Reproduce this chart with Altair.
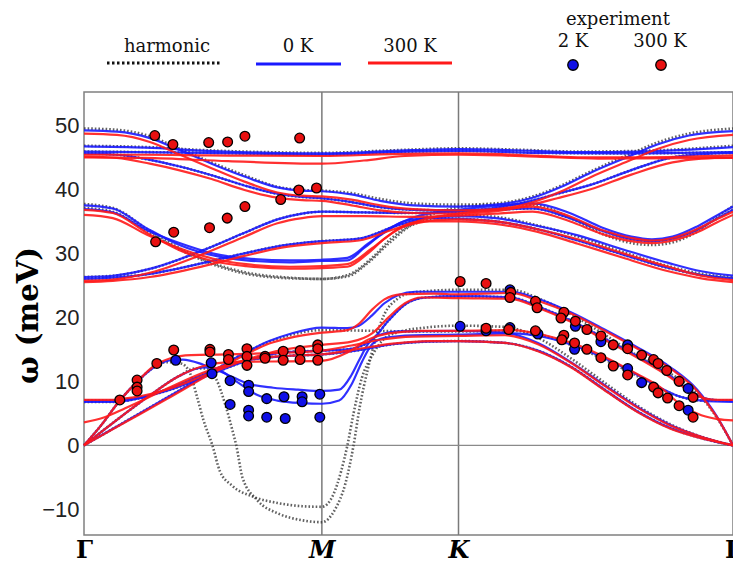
import altair as alt
import pandas as pd

# ---------------- high-symmetry path ----------------
path_k = [0.0, 0.578, 0.910, 1.577]
path_labels = ["Γ", "M", "K", "Γ"]
y_ticks = [-10, 0, 10, 20, 30, 40, 50]

# ---------------- 0 K (blue) bands: (k, meV) ----------------
blue_b1 = [(0,49.2),(0.08,49.0),(0.16,48.0),(0.23,46.2),(0.31,44.0),(0.39,42.0),(0.47,40.3),(0.53,39.8),(0.578,39.7),(0.65,39.2),(0.72,38.2),(0.80,37.5),(0.91,37.3),(1.0,37.6),(1.086,38.6),(1.16,40.4),(1.231,42.6),(1.33,45.3),(1.393,47.0),(1.47,48.4),(1.577,49.1)]
blue_b2 = [(0,46.7),(0.15,46.5),(0.30,46.0),(0.45,45.7),(0.578,45.6),(0.75,46.0),(0.91,46.3),(1.05,46.1),(1.20,45.8),(1.35,45.9),(1.577,46.6)]
blue_b2b = [(0,45.9),(0.30,45.7),(0.578,45.4),(0.75,45.8),(0.91,46.0),(1.10,45.7),(1.30,45.6),(1.577,45.8)]
blue_b3 = [(0,45.6),(0.08,45.4),(0.16,44.6),(0.23,43.6),(0.31,42.2),(0.39,40.6),(0.47,39.3),(0.53,38.8),(0.578,38.6),(0.65,38.0),(0.72,37.2),(0.80,36.8),(0.91,36.7),(0.99,37.0),(1.06,37.8),(1.15,39.3),(1.231,40.7),(1.33,43.0),(1.43,45.0),(1.50,45.5),(1.577,45.7)]
blue_m1 = [(0,37.5),(0.07,37.0),(0.153,33.9),(0.232,31.3),(0.312,29.7),(0.394,28.9),(0.50,28.6),(0.578,28.8),(0.64,28.9),(0.68,30.8),(0.72,32.8),(0.79,35.2),(0.91,35.8),(1.0,35.5),(1.10,34.3),(1.20,32.8),(1.31,30.6),(1.42,28.5),(1.50,27.2),(1.577,26.5)]
blue_m2 = [(0,36.9),(0.07,36.4),(0.153,33.6),(0.232,31.6),(0.312,30.0),(0.394,29.2),(0.50,28.9),(0.578,29.0),(0.64,29.3),(0.69,31.5),(0.74,33.8),(0.80,35.6),(0.91,36.8),(1.0,37.4),(1.09,37.8),(1.18,36.3),(1.26,34.0),(1.33,32.6),(1.38,32.2),(1.43,32.6),(1.49,34.2),(1.54,36.0),(1.577,37.3)]
blue_m3 = [(0,26.3),(0.07,26.5),(0.162,27.6),(0.29,30.5),(0.39,33.2),(0.47,35.3),(0.53,36.2),(0.578,36.5),(0.68,36.4),(0.80,36.3),(0.91,36.5),(1.0,36.8),(1.09,37.0),(1.18,35.5),(1.26,33.5),(1.33,32.2),(1.38,31.9),(1.43,32.3),(1.49,33.7),(1.54,35.5),(1.577,36.8)]
blue_m4 = [(0,26.0),(0.07,26.2),(0.16,26.8),(0.29,28.5),(0.39,30.0),(0.48,31.2),(0.578,31.9),(0.668,32.3),(0.764,34.4),(0.84,35.5),(0.91,35.4),(1.0,35.0),(1.10,33.8),(1.20,32.0),(1.31,29.8),(1.42,27.7),(1.50,26.6),(1.577,26.1)]
blue_la = [(0,0),(0.04,3.0),(0.087,7.0),(0.13,10.0),(0.17,12.2),(0.21,13.3),(0.24,13.4),(0.29,12.6),(0.35,11.0),(0.40,9.6),(0.46,9.0),(0.52,8.7),(0.578,8.5),(0.62,8.7),(0.65,11.0),(0.67,13.5),(0.69,15.8),(0.716,17.2),(0.77,17.8),(0.91,17.9),(1.023,17.6),(1.103,16.0),(1.183,13.0),(1.265,9.4),(1.345,6.0),(1.425,3.2),(1.507,1.2),(1.577,0)]
blue_lb = [(0,0),(0.08,4.0),(0.16,7.8),(0.23,10.8),(0.29,12.2),(0.32,12.0),(0.37,10.0),(0.42,7.9),(0.47,7.0),(0.53,6.6),(0.578,6.5),(0.62,7.0),(0.65,9.5),(0.675,13.0),(0.70,15.8),(0.73,16.8),(0.80,17.2),(0.91,17.3),(1.04,17.5),(1.12,16.9),(1.19,15.6),(1.265,13.6),(1.345,11.0),(1.40,9.0),(1.449,7.6),(1.50,7.0),(1.577,6.8)]
blue_lc = [(0,0),(0.10,3.7),(0.20,7.4),(0.30,11.1),(0.387,14.3),(0.45,16.3),(0.50,17.4),(0.578,18.4),(0.64,18.3),(0.668,18.7),(0.70,20.3),(0.73,22.2),(0.764,23.5),(0.805,24.0),(0.91,24.0),(1.038,24.0),(1.103,22.9),(1.183,20.8),(1.265,18.1),(1.345,15.3),(1.425,12.2),(1.49,8.7),(1.538,4.5),(1.577,0)]
blue_o1 = [(0,7.0),(0.06,7.0),(0.12,7.3),(0.20,8.5),(0.30,10.9),(0.40,13.3),(0.48,14.5),(0.578,14.8),(0.64,15.0),(0.70,16.5),(0.74,19.5),(0.78,22.0),(0.83,23.1),(0.91,23.3),(1.038,23.1),(1.103,21.7),(1.183,19.5),(1.265,16.7),(1.345,13.9),(1.425,10.8),(1.47,8.6),(1.51,7.3),(1.54,7.05),(1.577,7.0)]
blue_o2 = [(0,6.8),(0.07,6.8),(0.13,7.3),(0.20,8.7),(0.30,11.3),(0.40,13.3),(0.50,14.0),(0.578,14.2),(0.66,14.8),(0.75,15.8),(0.83,16.2),(0.91,16.3),(1.023,16.0),(1.103,14.8),(1.183,12.3),(1.265,8.7),(1.345,5.3),(1.425,2.7),(1.507,1.0),(1.577,0)]

# ---------------- 300 K (red) bands ----------------
red_b1 = [(0,48.7),(0.08,48.5),(0.16,47.4),(0.23,45.5),(0.31,43.3),(0.39,41.2),(0.47,39.5),(0.53,39.0),(0.578,38.9),(0.65,38.4),(0.72,37.5),(0.80,36.9),(0.91,36.7),(1.0,36.9),(1.086,37.9),(1.16,39.7),(1.231,41.9),(1.33,44.6),(1.393,46.3),(1.47,47.7),(1.577,48.5)]
red_b2 = [(0,45.4),(0.15,45.4),(0.30,45.3),(0.578,45.2),(0.75,45.5),(0.91,45.6),(1.05,45.4),(1.20,45.0),(1.35,45.0),(1.577,45.3)]
red_b2b = [(0,45.0),(0.15,44.9),(0.35,44.4),(0.578,44.0),(0.68,44.5),(0.78,45.2),(0.91,45.4),(1.10,45.1),(1.25,44.8),(1.577,44.9)]
red_b3 = [(0,45.1),(0.08,44.9),(0.16,44.0),(0.23,43.0),(0.31,41.6),(0.39,39.9),(0.47,38.7),(0.53,38.3),(0.578,38.2),(0.65,37.5),(0.72,36.7),(0.80,36.3),(0.91,36.2),(0.99,36.5),(1.06,37.2),(1.15,38.6),(1.231,40.0),(1.33,42.3),(1.43,44.2),(1.50,44.8),(1.577,45.0)]
red_m1 = [(0,36.8),(0.07,36.3),(0.153,33.2),(0.232,30.5),(0.312,28.8),(0.394,28.0),(0.50,27.6),(0.578,27.7),(0.64,27.9),(0.69,30.0),(0.73,32.3),(0.80,34.8),(0.91,35.3),(1.0,35.0),(1.10,33.8),(1.20,32.2),(1.31,30.0),(1.42,27.9),(1.50,26.5),(1.577,25.8)]
red_m2 = [(0,36.0),(0.07,35.5),(0.153,32.9),(0.232,30.8),(0.312,29.2),(0.394,28.3),(0.50,27.9),(0.578,28.0),(0.64,28.3),(0.70,30.8),(0.75,33.2),(0.81,35.0),(0.91,36.2),(1.0,36.8),(1.09,37.3),(1.18,35.8),(1.26,33.6),(1.33,32.4),(1.38,32.0),(1.43,32.4),(1.49,33.8),(1.54,35.4),(1.577,36.5)]
red_m3 = [(0,25.7),(0.07,25.9),(0.162,27.0),(0.29,29.9),(0.39,32.6),(0.47,34.7),(0.53,35.5),(0.578,35.8),(0.68,35.8),(0.80,35.7),(0.91,35.9),(1.0,36.2),(1.09,36.5),(1.18,35.0),(1.26,33.0),(1.33,31.9),(1.38,31.6),(1.43,32.0),(1.49,33.3),(1.54,34.9),(1.577,36.0)]
red_m4 = [(0,25.5),(0.07,25.7),(0.16,26.3),(0.29,28.0),(0.39,29.6),(0.48,30.9),(0.578,31.6),(0.668,32.0),(0.764,34.0),(0.84,35.0),(0.91,35.0),(1.0,34.6),(1.10,33.4),(1.20,31.5),(1.31,29.3),(1.42,27.2),(1.50,26.1),(1.577,25.5)]
red_la = [(0,0),(0.04,3.0),(0.087,7.0),(0.13,10.0),(0.17,12.4),(0.21,13.6),(0.26,14.1),(0.35,14.2),(0.45,14.4),(0.578,14.8),(0.65,15.6),(0.72,16.5),(0.80,17.0),(0.91,17.1),(1.023,17.2),(1.103,15.8),(1.183,12.9),(1.265,9.3),(1.345,5.9),(1.425,3.1),(1.507,1.2),(1.577,0)]
red_lb = [(0,0),(0.08,4.0),(0.16,7.8),(0.23,10.8),(0.29,12.4),(0.35,13.0),(0.45,13.1),(0.578,13.2),(0.64,14.5),(0.69,16.5),(0.74,17.5),(0.82,17.9),(0.91,17.9),(1.04,18.0),(1.12,17.2),(1.19,15.9),(1.265,13.8),(1.345,11.1),(1.40,9.1),(1.449,6.4),(1.50,4.7),(1.54,4.1),(1.577,3.9)]
red_lc = [(0,0),(0.10,3.6),(0.20,7.2),(0.30,10.9),(0.387,14.0),(0.45,15.9),(0.50,16.8),(0.578,17.6),(0.64,18.0),(0.668,19.0),(0.70,21.2),(0.73,22.8),(0.77,23.6),(0.85,23.7),(0.91,23.6),(1.038,23.8),(1.103,22.6),(1.183,20.6),(1.265,17.9),(1.345,15.1),(1.425,12.0),(1.49,8.5),(1.538,4.4),(1.577,0)]
red_o1 = [(0,7.1),(0.06,7.1),(0.12,7.5),(0.20,8.7),(0.30,11.1),(0.40,13.5),(0.48,14.9),(0.578,15.7),(0.65,16.2),(0.70,17.5),(0.74,20.0),(0.78,22.2),(0.82,23.1),(0.91,23.0),(1.038,22.9),(1.103,21.5),(1.183,19.3),(1.265,16.5),(1.345,13.7),(1.425,10.6),(1.47,8.5),(1.51,7.3),(1.54,7.1),(1.577,7.1)]
red_o2 = [(0,3.6),(0.05,4.4),(0.10,5.8),(0.20,8.8),(0.30,11.6),(0.40,13.4),(0.50,14.0),(0.578,14.2),(0.66,15.0),(0.75,15.9),(0.84,16.3),(0.91,16.3),(1.023,16.0),(1.103,14.7),(1.183,12.2),(1.265,8.6),(1.345,5.2),(1.425,2.6),(1.507,1.0),(1.577,0)]

# ---------------- harmonic (dotted) bands ----------------
harm_b1 = [(0,49.5),(0.08,49.3),(0.16,48.3),(0.23,46.4),(0.31,44.2),(0.39,42.2),(0.47,40.4),(0.53,39.9),(0.578,39.8),(0.65,39.4),(0.72,38.5),(0.80,37.8),(0.91,37.6),(1.0,37.8),(1.086,38.8),(1.16,40.6),(1.231,42.8),(1.33,45.6),(1.393,47.3),(1.47,48.7),(1.577,49.5)]
harm_b2 = [(0,46.8),(0.15,46.6),(0.30,46.1),(0.45,45.8),(0.578,45.7),(0.75,46.1),(0.91,46.4),(1.05,46.2),(1.20,45.9),(1.35,46.0),(1.577,46.8)]
harm_m1 = [(0,37.7),(0.07,37.1),(0.153,33.8),(0.232,30.8),(0.312,28.5),(0.394,27.0),(0.50,26.2),(0.578,26.0),(0.64,26.4),(0.69,28.5),(0.74,31.5),(0.80,34.5),(0.91,36.0),(1.0,35.7),(1.10,34.4),(1.20,32.6),(1.31,30.2),(1.42,28.0),(1.50,26.8),(1.577,26.3)]
harm_m2 = [(0,37.1),(0.07,36.5),(0.153,33.4),(0.232,30.6),(0.312,28.3),(0.394,26.8),(0.50,26.1),(0.578,26.0),(0.64,26.6),(0.70,29.3),(0.75,32.5),(0.81,35.0),(0.91,37.2),(1.0,37.6),(1.09,37.6),(1.18,35.6),(1.26,33.0),(1.33,31.6),(1.38,31.3),(1.43,31.7),(1.49,33.4),(1.54,35.8),(1.577,37.4)]
harm_la = [(0,0),(0.04,3.0),(0.087,7.0),(0.13,10.0),(0.17,12.2),(0.20,13.0),(0.235,12.8),(0.256,11.5),(0.275,7.5),(0.29,4.0),(0.312,0),(0.33,-4.0),(0.36,-6.3),(0.41,-8.0),(0.47,-9.0),(0.53,-9.5),(0.578,-9.6),(0.605,-7.8),(0.625,-4.0),(0.64,0),(0.655,5.0),(0.675,10.5),(0.70,14.0),(0.724,16.3),(0.764,17.7),(0.83,18.4),(0.91,18.7),(1.023,18.5),(1.103,16.8),(1.183,13.6),(1.265,9.8),(1.345,6.2),(1.425,3.3),(1.507,1.2),(1.577,0)]
harm_lb = [(0,0),(0.08,4.0),(0.16,7.8),(0.23,10.8),(0.27,12.0),(0.298,12.0),(0.32,10.5),(0.345,6.0),(0.36,2.5),(0.37,0),(0.385,-5.0),(0.42,-8.5),(0.474,-10.7),(0.53,-11.7),(0.578,-12.0),(0.61,-10.0),(0.635,-6.0),(0.655,0),(0.67,6.0),(0.69,12.0),(0.71,17.0),(0.73,20.5),(0.76,22.8),(0.80,23.9),(0.91,24.3),(1.038,24.3),(1.103,23.0),(1.183,20.5),(1.265,17.3),(1.345,14.0),(1.425,11.2),(1.49,8.2),(1.538,4.3),(1.577,0)]
harm_lc = [(0,0),(0.10,3.7),(0.20,7.4),(0.30,11.1),(0.387,14.3),(0.45,16.2),(0.50,17.2),(0.578,18.0),(0.70,17.9),(0.80,17.8),(0.91,17.8),(1.04,17.9),(1.12,17.1),(1.19,15.5),(1.265,13.4),(1.345,10.8),(1.40,8.9),(1.449,7.6),(1.50,7.0),(1.577,7.0)]

# ---------------- experimental points (k, meV) ----------------
exp_300K = [(0.172,48.4),(0.216,47.0),(0.303,47.3),(0.349,47.4),(0.391,48.3),(0.524,48.0),
            (0.522,39.9),(0.565,40.2),(0.478,38.4),(0.391,37.3),(0.348,35.5),(0.305,34.0),(0.218,33.3),(0.174,31.8),
            (0.087,7.1),(0.129,10.2),(0.129,9.1),(0.129,8.5),(0.177,12.8),(0.218,14.9),(0.306,15.0),(0.306,14.6),
            (0.351,14.2),(0.351,13.4),(0.396,15.1),(0.396,13.9),(0.396,12.5),(0.440,13.9),(0.440,13.6),(0.484,14.7),
            (0.484,13.3),(0.525,14.8),(0.525,13.4),(0.568,15.7),(0.568,15.1),(0.568,13.3),
            (0.914,25.6),(0.977,25.3),(1.037,23.9),(1.035,23.1),(1.097,22.5),(1.101,21.5),(1.166,20.8),(1.159,19.9),
            (1.194,19.4),(1.222,18.1),(1.256,17.1),(1.286,15.7),(1.321,15.1),(1.355,14.1),(1.384,13.4),(1.395,12.8),
            (1.416,11.7),(1.446,10.0),(1.480,7.5),
            (0.977,18.3),(1.032,18.1),(1.097,17.9),(1.166,17.2),(1.161,16.5),(1.192,16.0),(1.222,15.0),(1.256,13.7),
            (1.286,12.4),(1.321,11.0),(1.384,9.1),(1.395,8.2),(1.418,7.4),(1.446,6.2),(1.480,4.4)]
exp_2K = [(0.223,13.3),(0.309,12.9),(0.311,11.2),(0.355,10.1),(0.355,6.4),(0.400,9.4),(0.400,8.4),(0.400,5.5),
          (0.400,4.6),(0.444,7.3),(0.444,4.4),(0.486,7.6),(0.489,4.2),(0.530,7.6),(0.530,6.8),(0.573,8.0),(0.573,4.4),
          (0.914,18.6),(0.977,17.9),(1.035,24.3),(1.035,18.4),(1.103,17.4),(1.194,18.6),(1.192,15.0),(1.256,16.2),
          (1.321,15.7),(1.321,12.0),(1.355,9.8),(1.468,8.9),(1.468,5.5)]

# ---------------- assemble tables ----------------
series_bands = {
    "harmonic": {"b1": harm_b1, "b2": harm_b2, "b2b": blue_b2b, "b3": blue_b3, "m1": harm_m1, "m2": harm_m2,
                 "m3": blue_m3, "m4": blue_m4, "la": harm_la, "lb": harm_lb, "lc": harm_lc, "o1": blue_o1, "o2": blue_o2},
    "0 K": {"b1": blue_b1, "b2": blue_b2, "b2b": blue_b2b, "b3": blue_b3, "m1": blue_m1, "m2": blue_m2,
            "m3": blue_m3, "m4": blue_m4, "la": blue_la, "lb": blue_lb, "lc": blue_lc, "o1": blue_o1, "o2": blue_o2},
    "300 K": {"b1": red_b1, "b2": red_b2, "b2b": red_b2b, "b3": red_b3, "m1": red_m1, "m2": red_m2,
              "m3": red_m3, "m4": red_m4, "la": red_la, "lb": red_lb, "lc": red_lc, "o1": red_o1, "o2": red_o2},
}
rows = []
for s, bands in series_bands.items():
    for b, pts in bands.items():
        for i, (k, e) in enumerate(pts):
            rows.append({"series": s, "band": b, "k": k, "E": e, "i": i})
lines = pd.DataFrame(rows)

pts = pd.DataFrame([{"T": "300 K", "k": k, "E": e} for k, e in exp_300K] +
                   [{"T": "2 K", "k": k, "E": e} for k, e in exp_2K])
sym = pd.DataFrame({"k": path_k[1:3]})
zero = pd.DataFrame({"E": [0]})

label_expr = " : ".join(
    [f"datum.value < {(path_k[i] + path_k[i + 1]) / 2:.3f} ? '{path_labels[i]}'" for i in range(len(path_k) - 1)]
) + f" : '{path_labels[-1]}'"

x_enc = alt.X("k:Q", scale=alt.Scale(domain=[path_k[0], path_k[-1]], nice=False, zero=False),
              axis=alt.Axis(values=path_k, labelExpr=label_expr, title=None, grid=False, ticks=False, domain=False,
                            labelFont="DejaVu Serif", labelFontSize=24, labelFontWeight="bold",
                            labelFontStyle={"condition": {"test": "datum.value > 0.3 && datum.value < 1.2",
                                                          "value": "italic"}, "value": "normal"},
                            labelColor="black", labelPadding=3, labelFlush=False, labelOverlap=False,
                            labelBaseline="top"))
y_enc = alt.Y("E:Q", scale=alt.Scale(domain=[-14, 55.2], nice=False, zero=False),
              axis=alt.Axis(values=y_ticks, title="ω (meV)", grid=False, ticks=False, domain=False,
                            labelFont="Liberation Sans", labelFontSize=22, labelColor="#222", labelPadding=5,
                            titleFont="DejaVu Serif", titleFontSize=29, titleFontWeight="bold",
                            titleColor="black", titleX=-56, titleY=223, titleAngle=270,
                            titleAlign="center", titleBaseline="middle"))

rules = alt.Chart(sym).mark_rule(color="#7a7a7a", strokeWidth=1.5).encode(x=x_enc)
zline = alt.Chart(zero).mark_rule(color="#8a8a8a", strokeWidth=1.3).encode(y=y_enc)

harm = alt.Chart(lines[lines.series == "harmonic"]).mark_line(
    color="#3a3a3a", strokeWidth=2.6, strokeDash=[1.6, 2.0], interpolate="monotone", opacity=0.8
).encode(x=x_enc, y=y_enc, detail="band:N", order="i:Q")
blue = alt.Chart(lines[lines.series == "0 K"]).mark_line(
    color="#1a1aff", strokeWidth=2.2, interpolate="monotone", opacity=0.9
).encode(x=x_enc, y=y_enc, detail="band:N", order="i:Q")
red = alt.Chart(lines[lines.series == "300 K"]).mark_line(
    color="#ff1a1a", strokeWidth=2.2, interpolate="monotone", opacity=0.9
).encode(x=x_enc, y=y_enc, detail="band:N", order="i:Q")

p_blue = alt.Chart(pts[pts["T"] == "2 K"]).mark_circle(
    fill="#1010e6", stroke="black", strokeWidth=1.3, size=95, opacity=1
).encode(x=x_enc, y=y_enc)
p_red = alt.Chart(pts[pts["T"] == "300 K"]).mark_circle(
    fill="#e81010", stroke="black", strokeWidth=1.3, size=95, opacity=1
).encode(x=x_enc, y=y_enc)

# ---------------- custom legend (above the plot) ----------------
one = pd.DataFrame({"n": [0]})
LEG_FONT = dict(font="DejaVu Serif", fontSize=18, color="#111", align="center", baseline="middle")


def leg_text(txt, x, y):
    return alt.Chart(one).mark_text(text=txt, **LEG_FONT).encode(x=alt.value(x), y=alt.value(y))


def leg_line(x1, x2, y, **kw):
    return alt.Chart(one).mark_rule(**kw).encode(x=alt.value(x1), x2=alt.value(x2), y=alt.value(y))


def leg_dot(x, y, fill):
    return alt.Chart(one).mark_circle(fill=fill, stroke="black", strokeWidth=1.3, size=110, opacity=1).encode(
        x=alt.value(x), y=alt.value(y))


legend = [
    leg_text("harmonic", 83, -45),
    leg_line(23, 138, -29, color="#111", strokeWidth=3, strokeDash=[2.5, 2.5]),
    leg_text("0 K", 214, -45),
    leg_line(172, 257, -28, color="#1a1aff", strokeWidth=3),
    leg_text("300 K", 326, -45),
    leg_line(284, 368, -29, color="#ff1a1a", strokeWidth=3),
    leg_text("experiment", 534, -72),
    leg_text("2 K", 489, -50),
    leg_text("300 K", 576, -50),
    leg_dot(489, -27, "#1010e6"),
    leg_dot(577, -27, "#e81010"),
]

chart = alt.layer(rules, zline, harm, blue, red, p_blue, p_red, *legend).properties(
    width=649, height=443,
    autosize=alt.AutoSizeParams(type="none"),
    padding={"left": 76, "top": 84, "right": 0, "bottom": 29},
    background="white",
).configure_view(stroke="#808080", strokeWidth=1.5)

chart.save("out.html", embed_options={"renderer": "svg", "actions": False})
